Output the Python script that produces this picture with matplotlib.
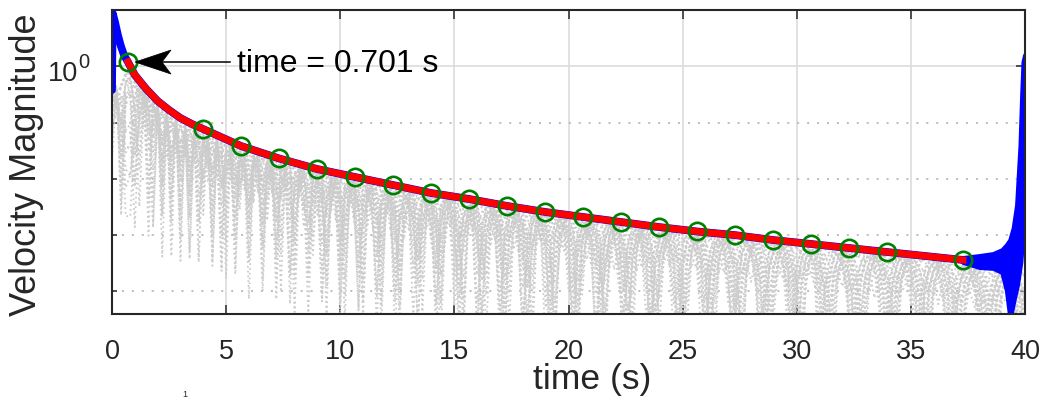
import numpy as np
import matplotlib
matplotlib.use("Agg")
import matplotlib.pyplot as plt
from matplotlib.ticker import FixedLocator, NullFormatter
from matplotlib.patches import Polygon
from matplotlib.transforms import ScaledTranslation

plt.rcParams["font.family"] = ["Liberation Sans", "DejaVu Sans"]

# ---- data -------------------------------------------------------------
# sampled peaks of the velocity magnitude (green circles)
peak_t = [0.701, 3.99, 5.65, 7.32, 8.98, 10.65, 12.31, 13.98, 15.64, 17.31,
          18.97, 20.64, 22.30, 23.97, 25.63, 27.29, 28.96, 30.62, 32.29,
          33.95, 37.28]
peak_v = [1.20, 0.0773, 0.0385, 0.0231, 0.0150, 0.0108, 0.00778, 0.00561,
          0.00439, 0.00330, 0.00258, 0.00210, 0.00171, 0.00139, 0.00116,
          0.00100, 0.000818, 0.000695, 0.000589, 0.000500, 0.000361]

# decay envelope (red)
env_t = [0.701, 1.0, 1.5, 2.0, 2.5, 3.0, 3.5] + peak_t[1:]
env_v = [1.20, 0.706, 0.398, 0.243, 0.168, 0.121, 0.0948] + peak_v[1:]

# velocity magnitude (blue): start-up transient, decay, end burst
start_t = [0.0, 0.03, 0.13, 0.26, 0.39, 0.53]
start_v = [0.38, 8.9, 6.2, 3.6, 2.3, 1.58]
tail_t = [38.0, 38.6, 39.0]
tail_v = [3.4e-4, 3.45e-4, 3.5e-4]
burst_t = [37.28, 38.0, 38.6, 39.0, 39.2, 39.35, 39.5, 39.65, 39.8, 39.87, 39.93, 40.0]
burst_lo = [3.32e-4, 2.70e-4, 2.60e-4, 2.20e-4, 1.05e-4, 3.5e-5, 7.0e-5,
            1.29e-4, 3.32e-4, 8.0e-4, 1.6e-3, 4.0e-3]
burst_hi = [3.92e-4, 4.25e-4, 4.61e-4, 5.43e-4, 6.67e-4, 8.18e-4, 1.34e-3,
            3.44e-3, 4.0e-2, 0.30, 1.20, 1.60]

# upper bound of the individual component traces (grey)
comp_top_t = [0.0, 0.4] + env_t + [38.0, 39.0, 40.0]
comp_top_v = [0.40, 0.55] + env_v + [2.7e-4, 2.7e-4, 2.7e-4]
# deep-notching components
notch_phase = [0.0, 0.1, 0.2, 0.3, 0.4, 0.5, 0.6, 0.7, 0.8, 0.9, 1.0, 1.1,
               1.2, 1.3]
notch_gain = [1.0, 0.9, 0.8, 0.7, 0.95, 0.85, 0.75, 0.65, 0.98, 0.88, 0.78,
              0.68, 0.92, 0.82]
notch_floor = 0.003
# shallow components filling the band under the envelope
band_phase = [0.0, 0.45, 0.9, 1.35, 1.8, 2.25, 2.7]
band_gain = [0.95, 0.85, 0.9, 0.8, 0.97, 0.88, 0.83]
band_floor = 0.15
comp_rate = 26.0
band_rate = 21.0
comp_dt = 0.2

yticks = [1.0]
yminor = [1e-4, 1e-3, 1e-2, 1e-1, 10.0]
xticks = [0, 5, 10, 15, 20, 25, 30, 35, 40]
annot_time = 0.701

# ---- figure -----------------------------------------------------------
W, H = 1044, 401
fig = plt.figure(figsize=(W / 100, H / 100), dpi=100)
ax = fig.add_axes([112 / W, 1 - 314 / H, (1025 - 112) / W, (314 - 10) / H])
ax.set_yscale("log")
ax.set_xlim(0, 40)
ax.set_ylim(10 ** -4.404, 10 ** 1.005)

dark = "#262626"
grey = (0.8, 0.8, 0.8)

# component traces
ts = np.arange(0, 40 + 1e-9, comp_dt)
top = 10 ** np.interp(ts, comp_top_t, np.log10(comp_top_v))
root = np.sqrt(ts)
for ph, g in zip(notch_phase, notch_gain):
    mod = notch_floor + np.cos(comp_rate * root + ph) ** 2
    ax.plot(ts, g * top * mod, ls=":", lw=1.3, color=grey, zorder=1.5)
for ph, g in zip(band_phase, band_gain):
    mod = band_floor + (1 - band_floor) * np.abs(np.cos(band_rate * root + ph))
    ax.plot(ts, g * top * mod, ls=":", lw=1.3, color=grey, zorder=1.5)

# velocity magnitude
blue_t = start_t + env_t + tail_t
blue_v = start_v + env_v + tail_v
ax.plot(blue_t, blue_v, color="blue", lw=5.6, solid_capstyle="round",
        solid_joinstyle="round", zorder=2)
ax.fill_between(burst_t, burst_lo, burst_hi, color="blue", lw=3.5,
                edgecolor="blue", zorder=2)

# envelope and sampled peaks
ax.plot(env_t, env_v, color="red", lw=5.0, zorder=3)
ax.plot(peak_t, peak_v, ls="none", marker="o", ms=12.5, mfc="none",
        mec=(0, 0.5, 0), mew=1.9, zorder=4)

# axes styling
ax.yaxis.set_major_locator(FixedLocator(yticks))
ax.yaxis.set_major_formatter(NullFormatter())
ax.yaxis.set_minor_locator(FixedLocator(yminor))
ax.yaxis.set_minor_formatter(NullFormatter())
ax.xaxis.set_major_locator(FixedLocator(xticks))
ax.set_xticklabels([str(x) for x in xticks])
ax.set_axisbelow(True)
ax.grid(True, which="major", color=(0.86, 0.86, 0.86), lw=1.2, ls="-")
ax.grid(True, which="minor", axis="y", color=(0.72, 0.72, 0.72), lw=1.3,
        ls=(0, (1.1, 4.4)))
for s in ax.spines.values():
    s.set_color(dark)
    s.set_linewidth(1.5)
ax.tick_params(which="both", direction="in", top=True, right=True,
               colors=dark, width=1.1, labelsize=19.5)
ax.tick_params(which="major", length=6.5)
ax.tick_params(which="minor", length=3.6)
ax.tick_params(axis="x", pad=18)

# y tick label 10^0 set as base and exponent
fig.text(78 / W, 1 - 74 / H, "10", fontsize=19.5, ha="right", va="center",
         color=dark)
fig.text(78.5 / W, 1 - 63 / H, "0", fontsize=14.5, ha="left", va="center",
         color=dark)

# annotation arrow pointing at the first peak
tip_x, tip_y = 1.008, 1.2
head = Polygon([(0, 0), (0.36, 0.12), (0.27, 0), (0.36, -0.12)], closed=True,
               facecolor="black", edgecolor="black", lw=0.5, zorder=6,
               transform=fig.dpi_scale_trans + ScaledTranslation(tip_x, tip_y, ax.transData))
ax.add_patch(head)
ax.plot([2.2, 5.17], [tip_y, tip_y], color="black", lw=1.1, zorder=6)
ax.text(5.48, 10 ** 0.044, f"time = {annot_time} s", fontsize=23,
        ha="left", va="center", color="black", zorder=6)

fig.text(27 / W, 1 - 165 / H, "Velocity Magnitude", rotation=90,
         fontsize=26, ha="center", va="center", color=dark)
fig.text(592 / W, 1 - 380 / H, "time (s)", fontsize=25.5,
         ha="center", va="center", color=dark)
fig.text(185 / W, 1 - 399 / H, "1", fontsize=6.5, ha="center", va="bottom",
         color=dark)

fig.savefig("out.png", dpi=100)
